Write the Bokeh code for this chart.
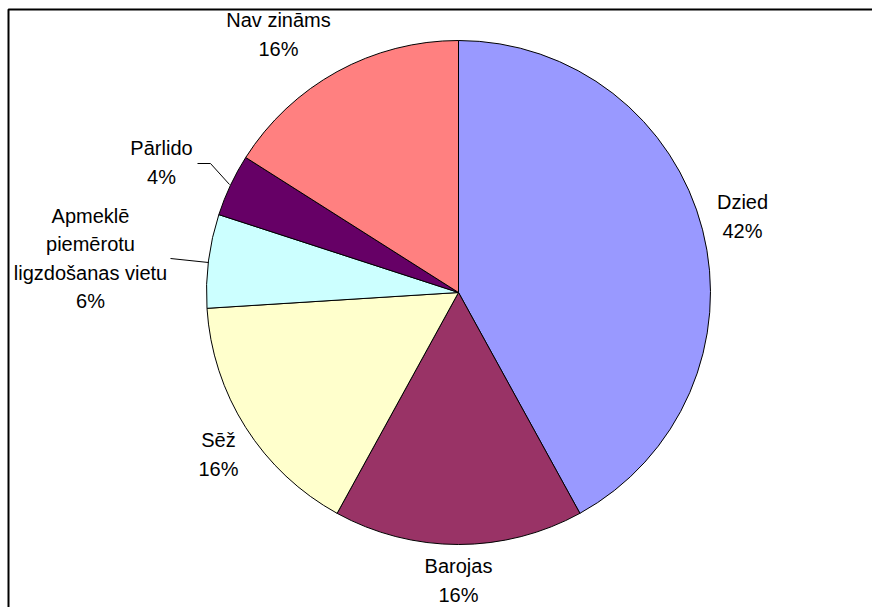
import math
from bokeh.plotting import figure
from bokeh.models import Range1d, ColumnDataSource
from bokeh.core.properties import value
from bokeh.embed import file_html
from bokeh.resources import INLINE

# Data
categories = ["Dzied", "Barojas", "Sēž", "Apmeklē\npiemērotu\nligzdošanas vietu", "Pārlido", "Nav zināms"]
percents = [42, 16, 16, 6, 4, 16]
colors = ["#9999FF", "#993366", "#FFFFCC", "#CCFFFF", "#660066", "#FF8080"]

# Layout (pixel space, y measured from top)
W, H = 872, 607
CX, CY, R = 458, 292, 252
label_pos = [(742, 216), (458, 580), (218, 454), (90, 258), (161, 162), (278, 34)]

def fy(y):
    return H - y

p = figure(width=W, height=H, output_backend="svg", toolbar_location=None,
           x_range=Range1d(0, W), y_range=Range1d(0, H), min_border=0)
p.axis.visible = False
p.grid.visible = False
p.outline_line_color = None
p.background_fill_color = "white"
p.border_fill_color = "white"

total = sum(percents)
starts, ends = [], []
a = math.pi / 2
for v in percents:
    starts.append(a)
    a -= 2 * math.pi * v / total
    ends.append(a)

src = ColumnDataSource(dict(x=[CX] * len(percents), y=[fy(CY)] * len(percents),
                            start=starts, end=ends, color=colors))
p.wedge(x="x", y="y", radius=R, start_angle="start", end_angle="end",
        direction="clock", fill_color="color", line_color="black", line_width=1,
        source=src)

# Leader lines
p.line([197, 210, 229], [fy(163), fy(163), fy(184)], line_color="black", line_width=1)
p.line([170, 208], [fy(258), fy(262)], line_color="black", line_width=1)

# Labels
texts = [f"{c}\n{v}%" for c, v in zip(categories, percents)]
p.text(x=[lp[0] for lp in label_pos], y=[fy(lp[1]) for lp in label_pos], text=texts,
       text_align="center", text_baseline="middle", text_font=value("Liberation Sans"),
       text_font_size="20px", text_color="black", text_line_height=1.3)

# Frame
p.line([8, 8, W + 5], [-5, fy(9), fy(9)], line_color="black", line_width=2)

open("out.html", "w").write(file_html(p, INLINE))
